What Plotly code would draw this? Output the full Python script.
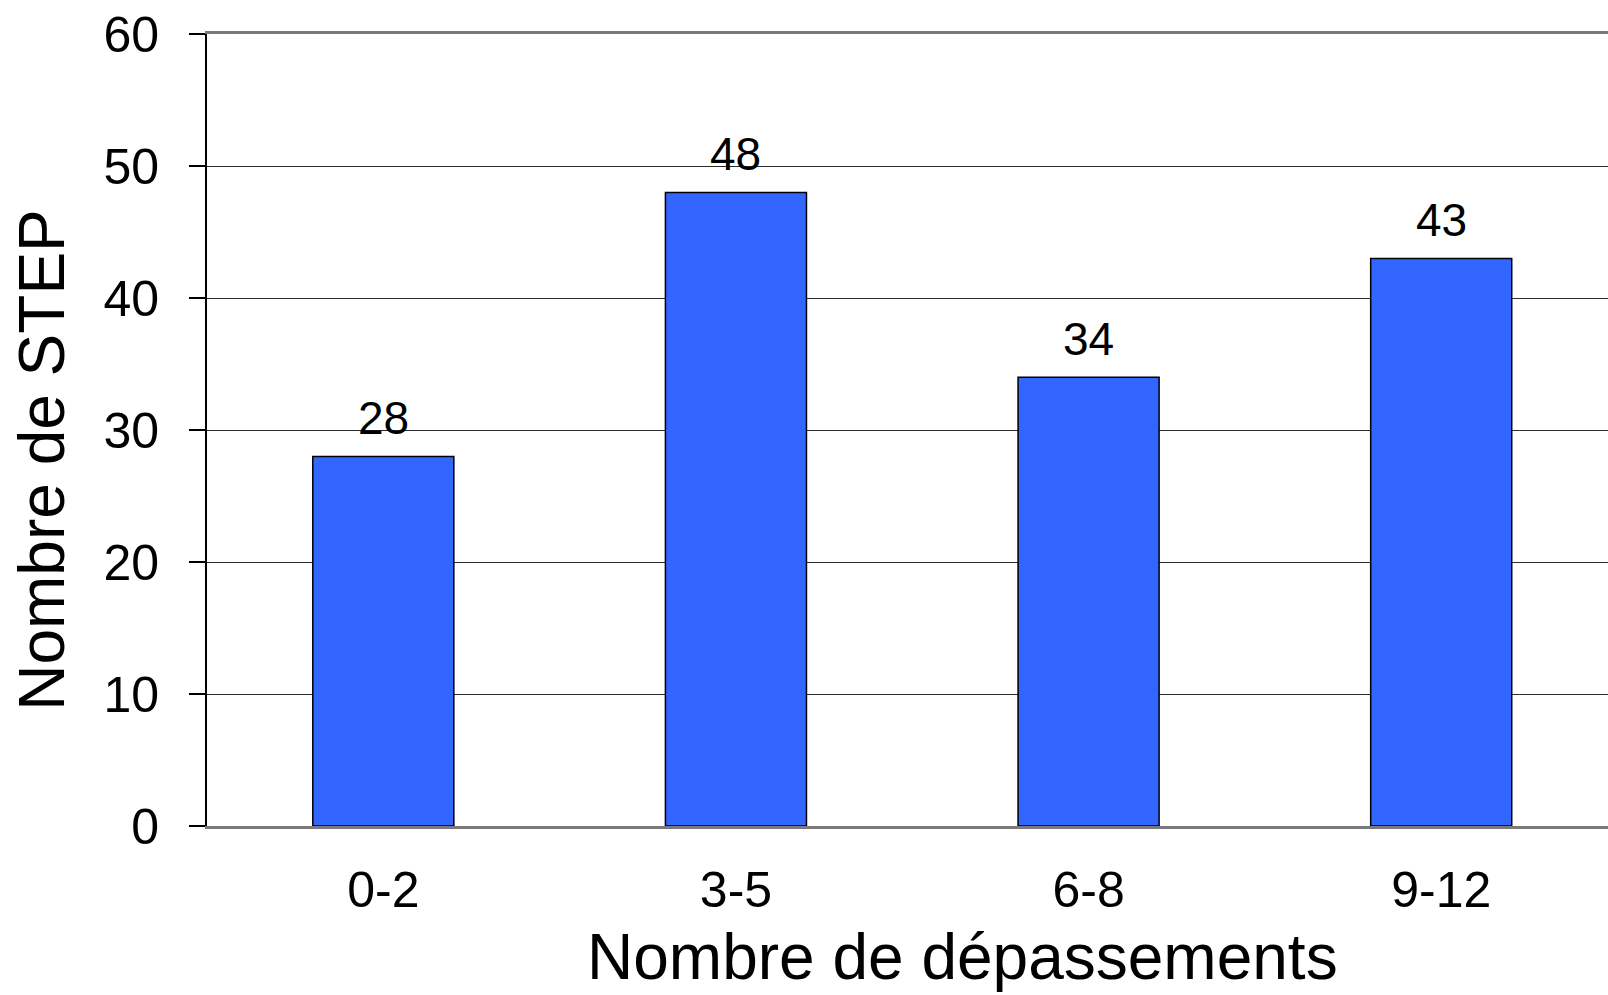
import plotly.graph_objects as go

# Nombre de STEP par classe de dépassements
classes = ["0-2", "3-5", "6-8", "9-12"]
nb_step = [28, 48, 34, 43]
y_ticks = [0, 10, 20, 30, 40, 50, 60]

FONT = "Liberation Sans, Arial, sans-serif"

fig = go.Figure(
    go.Bar(
        x=classes,
        y=nb_step,
        width=0.4,
        marker=dict(color="#3366FF", line=dict(color="#000000", width=1.5)),
        hoverinfo="x+y",
    )
)

# value labels above each bar
for c, v in zip(classes, nb_step):
    fig.add_annotation(
        x=c, y=v, text=str(v), showarrow=False,
        xanchor="center", yanchor="bottom", yshift=10,
        font=dict(family=FONT, size=46, color="#000000"),
    )

# axis titles
fig.add_annotation(
    xref="paper", yref="paper", x=0.539, y=-0.117,
    text="Nombre de dépassements", showarrow=False,
    xanchor="center", yanchor="top",
    font=dict(family=FONT, size=64, color="#000000"),
)
fig.add_annotation(
    xref="paper", yref="paper", x=-0.118, y=0.462,
    text="Nombre de STEP", showarrow=False, textangle=-90,
    xanchor="center", yanchor="middle",
    font=dict(family=FONT, size=64, color="#000000"),
)

fig.update_layout(
    width=1608, height=995,
    margin=dict(l=207, r=0, t=34, b=169),
    paper_bgcolor="#FFFFFF", plot_bgcolor="#FFFFFF",
    showlegend=False,
    font=dict(family=FONT, color="#000000"),
    bargap=0.6,
)
fig.update_xaxes(
    type="category",
    range=[-0.5, 3.473],
    showgrid=False,
    showline=True, linecolor="#7a7a7a", linewidth=3, mirror=True,
    ticks="outside", ticklen=18, tickcolor="rgba(0,0,0,0)",
    tickfont=dict(family=FONT, size=50, color="#000000"),
)
fig.update_yaxes(
    range=[0, 60],
    tickvals=y_ticks,
    showgrid=True, gridcolor="#2b2b2b", gridwidth=1,
    zeroline=False,
    showline=True, linecolor="#000000", linewidth=2,
    ticks="outside", ticklen=16, tickcolor="#000000", tickwidth=1.5,
    ticklabelstandoff=20,
    tickfont=dict(family=FONT, size=50, color="#000000"),
)

fig.write_html("out.html")
